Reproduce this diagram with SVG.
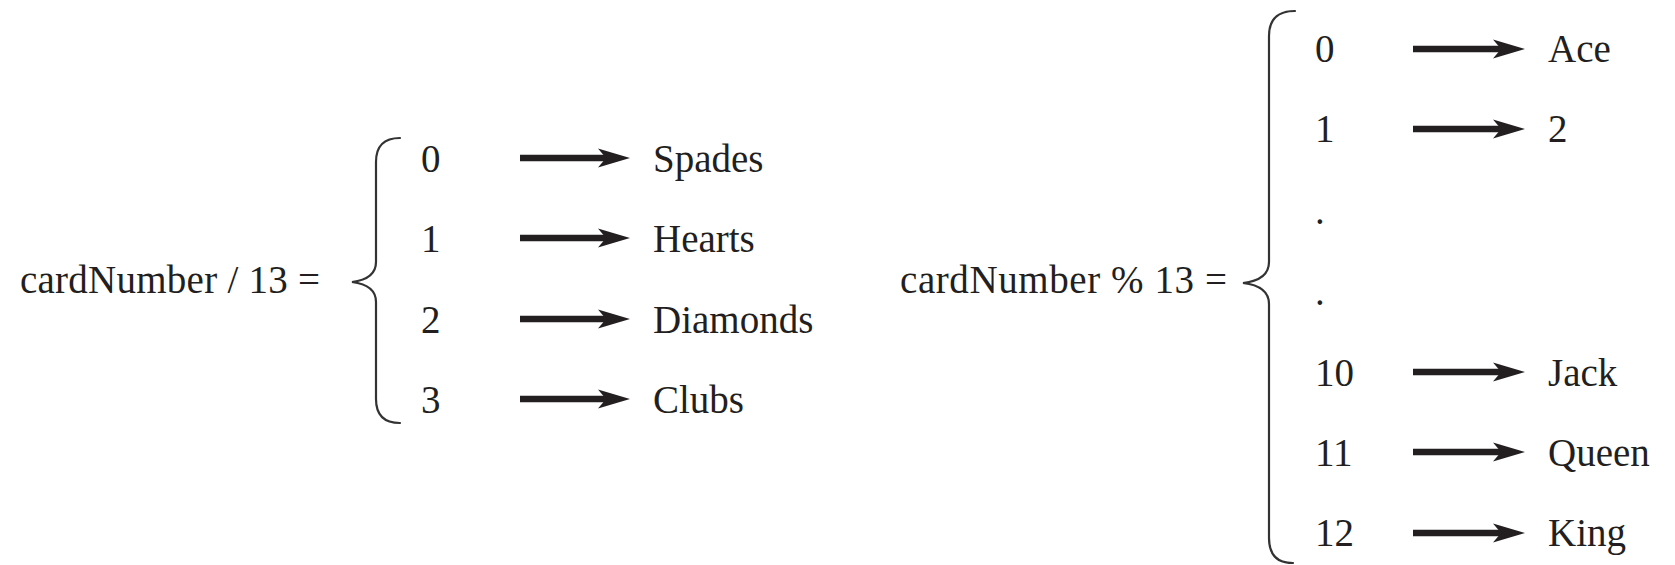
<svg xmlns="http://www.w3.org/2000/svg" width="1675" height="565" viewBox="0 0 1675 565">
<style>
text { font-family: "Liberation Serif", "Times New Roman", serif; font-size: 39px; fill: #231f20; }
.brace { fill: none; stroke: #333; stroke-width: 2.2; stroke-linecap: round; }
.arr { stroke: #231f20; stroke-width: 6.5; marker-end: url(#head); }
</style>
<defs>
<marker id="head" markerUnits="userSpaceOnUse" markerWidth="34" markerHeight="22" viewBox="0 0 34 22" refX="9" refY="11" orient="auto">
<path d="M1,1.5 L33,11 L1,20.5 L9,11 Z" fill="#231f20"/>
</marker>
</defs>
<rect width="1675" height="565" fill="#fff"/>

<g id="div-expr">
<text x="20" y="293" textLength="300" lengthAdjust="spacing">cardNumber / 13 =</text>
<path class="brace" d="M400,138 Q376,138 376,162 L376,262 Q376,279 352,282 Q376,285 376,302 L376,399 Q376,423 400,423"/>
</g>
<g id="div-0"><text x="421" y="172">0</text><text x="653" y="172">Spades</text></g>
<g id="div-1"><text x="421" y="252">1</text><text x="653" y="252">Hearts</text></g>
<g id="div-2"><text x="421" y="333">2</text><text x="653" y="333">Diamonds</text></g>
<g id="div-3"><text x="421" y="413">3</text><text x="653" y="413">Clubs</text></g>

<g id="mod-expr">
<text x="900" y="293" textLength="327" lengthAdjust="spacing">cardNumber % 13 =</text>
<path class="brace" d="M1295,11 Q1269,11 1269,36 L1269,262 Q1269,280 1243,283 Q1269,286 1269,304 L1269,538 Q1269,563 1293,563"/>
</g>
<g id="mod-0"><text x="1315" y="62">0</text><text x="1548" y="62">Ace</text></g>
<g id="mod-1"><text x="1315" y="142">1</text><text x="1548" y="142">2</text></g>
<g id="mod-dot1"><text x="1315" y="224">.</text></g>
<g id="mod-dot2"><text x="1315" y="305">.</text></g>
<g id="mod-10"><text x="1315" y="386">10</text><text x="1548" y="386">Jack</text></g>
<g id="mod-11"><text x="1315" y="466">11</text><text x="1548" y="466">Queen</text></g>
<g id="mod-12"><text x="1315" y="546">12</text><text x="1548" y="546">King</text></g>

<g id="connectors">
<line class="arr" x1="520" y1="158" x2="606" y2="158"/>
<line class="arr" x1="520" y1="238" x2="606" y2="238"/>
<line class="arr" x1="520" y1="319" x2="606" y2="319"/>
<line class="arr" x1="520" y1="399" x2="606" y2="399"/>
<line class="arr" x1="1413" y1="49" x2="1501" y2="49"/>
<line class="arr" x1="1413" y1="129" x2="1501" y2="129"/>
<line class="arr" x1="1413" y1="372" x2="1501" y2="372"/>
<line class="arr" x1="1413" y1="452" x2="1501" y2="452"/>
<line class="arr" x1="1413" y1="533" x2="1501" y2="533"/>
</g>
</svg>
